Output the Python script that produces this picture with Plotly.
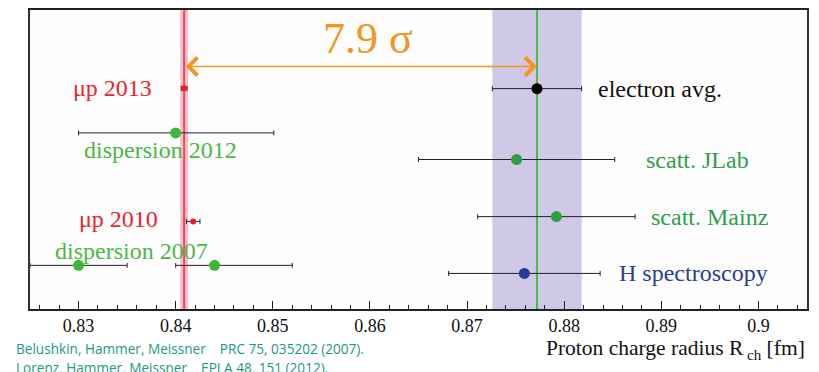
import plotly.graph_objects as go

# ---------------- data ----------------
# radius values [fm], errors and row levels (arbitrary vertical units 0..10)
mu_names = ["μp 2013", "μp 2010"]
mu_r = [0.84087, 0.8418]
mu_err = [0.0003, 0.0007]
mu_row = [7.38, 2.93]

disp_names = ["dispersion 2012", "dispersion 2007", "dispersion 2007b"]
disp_r = [0.8400, 0.8300, 0.8440]
disp_plus = [0.0101, 0.0050, 0.0080]
disp_minus = [0.0100, 0.0050, 0.0040]
disp_row = [5.89, 1.46, 1.46]

scatt_names = ["scatt. JLab", "scatt. Mainz"]
scatt_r = [0.8751, 0.8792]
scatt_err = [0.0101, 0.0081]
scatt_row = [5.00, 3.09]

hspec_r = [0.8759]
hspec_err = [0.0078]
hspec_row = [1.19]

eavg_r = [0.8772]
eavg_err = [0.0046]
eavg_row = [7.37]

band_mu_center = 0.84087
band_mu_half = 0.0004
band_e_center = 0.8772
band_e_half = 0.0046

sigma_text = "7.9 σ"
sigma_x = 0.8598
arrow_row = 8.11
sigma_row = 9.04

x_ticks = [0.83, 0.84, 0.85, 0.86, 0.87, 0.88, 0.89, 0.90]
x_tick_labels = ["0.83", "0.84", "0.85", "0.86", "0.87", "0.88", "0.89", "0.9"]

# label placement (x in fm, row units)
labels = [
    ("μp 2013", 0.8335, 7.40, "#e8242f"),
    ("dispersion 2012", 0.83847, 5.33, "#4cb847"),
    ("μp 2010", 0.83416, 3.01, "#e8242f"),
    ("dispersion 2007", 0.8354, 1.95, "#4cb847"),
    ("electron avg.", 0.8899, 7.37, "#111111"),
    ("scatt. JLab", 0.89373, 5.00, "#2e9e48"),
    ("scatt. Mainz", 0.89496, 3.09, "#2e9e48"),
    ("H spectroscopy", 0.89331, 1.19, "#2b3f97"),
]

citations = [
    "Belushkin, Hammer, Meissner    PRC 75, 035202 (2007).",
    "Lorenz, Hammer, Meissner    EPJ A 48, 151 (2012).",
]

SERIF = "Liberation Serif"
ERRC = "#222222"

fig = go.Figure()

# bands
fig.add_vrect(x0=band_e_center - band_e_half, x1=band_e_center + band_e_half,
              fillcolor="#cfc8e6", opacity=1, line_width=0, layer="below")
fig.add_vrect(x0=band_mu_center - band_mu_half, x1=band_mu_center + band_mu_half,
              fillcolor="#f8bfca", opacity=1, line_width=0, layer="below")
fig.add_vline(x=band_e_center, line_color="#4cb848", line_width=2, layer="below")
fig.add_vline(x=band_mu_center, line_color="#ef4a5a", line_width=2, layer="below")

def eb(plus, minus=None):
    d = dict(type="data", array=plus, color=ERRC, thickness=1, width=2.5)
    if minus is not None:
        d["arrayminus"] = minus
        d["symmetric"] = False
    return d

fig.add_trace(go.Scatter(x=disp_r, y=disp_row, mode="markers",
                         error_x=eb(disp_plus, disp_minus),
                         marker=dict(color="#3cb83c", size=11)))
fig.add_trace(go.Scatter(x=scatt_r, y=scatt_row, mode="markers",
                         error_x=eb(scatt_err),
                         marker=dict(color="#2ea043", size=11)))
fig.add_trace(go.Scatter(x=hspec_r, y=hspec_row, mode="markers",
                         error_x=eb(hspec_err),
                         marker=dict(color="#25399a", size=11)))
fig.add_trace(go.Scatter(x=eavg_r, y=eavg_row, mode="markers",
                         error_x=eb(eavg_err),
                         marker=dict(color="#000000", size=11)))
fig.add_trace(go.Scatter(x=mu_r, y=mu_row, mode="markers",
                         error_x=eb(mu_err),
                         marker=dict(color="#ee1c25", size=6)))

ann = []
for txt, x, y, c in labels:
    ann.append(dict(x=x, y=y, xref="x", yref="y", text=txt, showarrow=False,
                    xanchor="center", yanchor="middle",
                    font=dict(family=SERIF, size=24, color=c)))

# double arrow
ann.append(dict(x=band_e_center, y=arrow_row, ax=band_mu_center, ay=arrow_row,
                xref="x", yref="y", axref="x", ayref="y", text="",
                showarrow=True, arrowhead=4, startarrowhead=4, arrowside="end+start",
                arrowsize=2.2, startarrowsize=2.2, arrowwidth=1.6, arrowcolor="#f7941d"))
ann.append(dict(x=sigma_x, y=sigma_row, xref="x", yref="y",
                text=sigma_text, showarrow=False, xanchor="center", yanchor="middle",
                font=dict(family=SERIF, size=44, color="#f7941d")))

# axis title
ann.append(dict(x=1.0, y=-0.137, xref="paper", yref="paper",
                text="Proton charge radius R<sub> ch</sub> [fm]", showarrow=False,
                xanchor="right", yanchor="middle",
                font=dict(family=SERIF, size=21.5, color="#111111")))

# citations
for i, c in enumerate(citations):
    ann.append(dict(x=-0.0206, y=-0.133 - 0.063 * i,
                    xref="paper", yref="paper", text=c, showarrow=False,
                    xanchor="left", yanchor="middle",
                    font=dict(family="Open Sans", size=13.6, color="#1a9a84")))

# page body has an 8px margin: figure is 811x364 so it fills the 819x372 window
fig.update_layout(
    width=811, height=364,
    margin=dict(l=22, r=12, t=0, b=63),
    paper_bgcolor="white", plot_bgcolor="#fefefe",
    showlegend=False,
    annotations=ann,
    xaxis=dict(range=[0.825, 0.905], tickvals=x_ticks, ticktext=x_tick_labels,
               ticks="inside", ticklen=8, tickwidth=1, tickcolor="#222",
               minor=dict(ticks="inside", ticklen=4, dtick=0.002, tick0=0.83,
                          tickcolor="#222", showgrid=False),
               showgrid=False, zeroline=False,
               showline=True, linecolor="#222", linewidth=1.5, mirror=True,
               tickfont=dict(family=SERIF, size=18, color="#111")),
    yaxis=dict(range=[0, 10], showticklabels=False, ticks="", showgrid=False,
               zeroline=False, showline=True, linecolor="#333", linewidth=1.5,
               mirror=True),
)

fig.write_html("out.html")
